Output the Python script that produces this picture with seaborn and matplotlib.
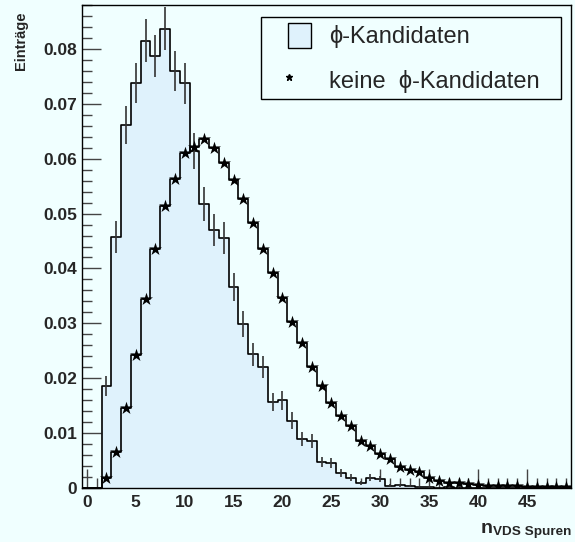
import numpy as np
import pandas as pd
import matplotlib
matplotlib.use("Agg")
import matplotlib.pyplot as plt
import seaborn as sns
from matplotlib.patches import Patch, Rectangle
from matplotlib.lines import Line2D
from matplotlib.legend_handler import HandlerPatch
from matplotlib.ticker import MultipleLocator, FuncFormatter

# Anzahl VDS-Spuren (Bin-Mitten)
n_spuren = list(range(50))

# phi-Kandidaten (normiert)
phi_kand = [0, 0, 0.0186, 0.0458, 0.0661, 0.0738, 0.0815, 0.0787, 0.0837, 0.0760,
            0.0737, 0.0614, 0.0517, 0.0470, 0.0455, 0.0366, 0.0299, 0.0244, 0.0221, 0.0157,
            0.0160, 0.0123, 0.0089, 0.0086, 0.0048, 0.0045, 0.0027, 0.0019, 0.0009, 0.0019,
            0.0016, 0.0004, 0.0005, 0.0003, 0.0002, 0.0002, 0, 0.0002, 0, 0,
            0, 0, 0, 0, 0, 0, 0, 0, 0, 0]

# Fehlerbalken der phi-Kandidaten
phi_fehler = [0, 0, 0.0018, 0.0029, 0.0035, 0.0037, 0.0039, 0.0038, 0.0039, 0.0037,
              0.0037, 0.0033, 0.0031, 0.0029, 0.0029, 0.0026, 0.0023, 0.0021, 0.0020, 0.0017,
              0.0017, 0.0015, 0.0013, 0.0013, 0.0009, 0.0009, 0.0007, 0.0006, 0.0004, 0.0006,
              0.0005, 0.0003, 0.0003, 0.0002, 0.0002, 0.0002, 0, 0.0002, 0, 0,
              0, 0, 0, 0, 0, 0, 0, 0, 0, 0]

# keine phi-Kandidaten (normiert)
keine_phi = [0, 0, 0.0018, 0.0066, 0.0145, 0.0242, 0.0344, 0.0435, 0.0514, 0.0563,
             0.0610, 0.0622, 0.0635, 0.0619, 0.0593, 0.0561, 0.0526, 0.0482, 0.0435, 0.0392,
             0.0347, 0.0302, 0.0265, 0.0221, 0.0185, 0.0155, 0.0132, 0.0113, 0.0086, 0.0077,
             0.0062, 0.0053, 0.0038, 0.0033, 0.0029, 0.0019, 0.0013, 0.0010, 0.0009, 0.0008,
             0.0006, 0.0004, 0.0003, 0.0004, 0.0003, 0.0002, 0.0002, 0.0001, 0.0001, 0.0001]

df = pd.DataFrame({"n": n_spuren, "phi": phi_kand, "fehler": phi_fehler, "keine": keine_phi})

hintergrund = "#F0FFFF"
fuellung = "#DFF2FC"

sns.set_style("ticks")
plt.rcParams['font.family'] = ['Liberation Sans', 'DejaVu Sans']

fig = plt.figure(figsize=(5.75, 5.42), dpi=100, facecolor=hintergrund)
ax = fig.add_axes([0.1426, 0.0996, 0.8504, 0.8912])
ax.set_facecolor(hintergrund)

bin_opts = dict(binwidth=1, binrange=(-0.5, 49.5), element="step")

# phi-Kandidaten: gefuellt + Umriss
sns.histplot(data=df, x="n", weights="phi", fill=True, color=fuellung, alpha=1,
             linewidth=0, ax=ax, **bin_opts)
sns.histplot(data=df, x="n", weights="phi", fill=False, color="black", linewidth=1.2,
             ax=ax, **bin_opts)
mit_fehler = df[df["phi"] > 0]
ax.errorbar(mit_fehler["n"], mit_fehler["phi"], yerr=mit_fehler["fehler"], fmt="none",
            ecolor="#333333", elinewidth=1.2)

# keine phi-Kandidaten: Umriss + Sterne
sns.histplot(data=df, x="n", weights="keine", fill=False, color="black", linewidth=1.2,
             ax=ax, **bin_opts)
sns.scatterplot(data=df[df["keine"] > 0], x="n", y="keine", marker="*", s=95,
                color="black", linewidth=0, ax=ax, zorder=5)

ax.set_xlim(-0.5, 49.5)
ax.set_ylim(0, 0.088)
ax.set_xlabel("")
ax.set_ylabel("")

ax.xaxis.set_major_locator(MultipleLocator(5))
ax.xaxis.set_minor_locator(MultipleLocator(1))
ax.yaxis.set_major_locator(MultipleLocator(0.01))
ax.yaxis.set_minor_locator(MultipleLocator(0.002))
ax.yaxis.set_major_formatter(FuncFormatter(lambda v, p: "0" if abs(v) < 1e-9 else f"{v:.2f}"))

ax.tick_params(which="major", direction="in", length=14, width=1, color="#444444",
               labelsize=12.5, pad=3.6)
ax.tick_params(which="minor", direction="in", length=7, width=1, color="#444444")
ax.tick_params(axis="x", which="major", pad=5)
for lab in ax.get_xticklabels() + ax.get_yticklabels():
    lab.set_fontweight("bold")
for sp in ax.spines.values():
    sp.set_visible(True)
    sp.set_color("black")
    sp.set_linewidth(1)

# Achsentitel
fig.text(0.037, 1 - 11 / 542, "Einträge", rotation=90, ha="center", va="top",
         fontsize=10.5, fontweight="bold")
fig.text(481 / 575, 1 - 533 / 542, "n", ha="left", va="baseline", fontsize=14, fontweight="bold")
fig.text(493 / 575, 1 - 535 / 542, "VDS Spuren", ha="left", va="baseline",
         fontsize=9.7, fontweight="bold")


# Legende
def kaestchen(legend, orig_handle, xdescent, ydescent, width, height, fontsize):
    versatz = 15
    return Rectangle((-xdescent + versatz, -ydescent), width - versatz, height)


handles = [Patch(facecolor=fuellung, edgecolor="black", linewidth=1),
           Line2D([], [], marker="*", color="black", linestyle="none", markersize=5)]
leg = ax.legend(handles, ["ϕ-Kandidaten", "keine  ϕ-Kandidaten"],
                loc="upper left", bbox_to_anchor=(0.366, 0.5, 0.614, 0.475), mode="expand",
                borderaxespad=0, fontsize=17, handlelength=1.86, handleheight=1.22,
                handletextpad=0.76, labelspacing=0.8, borderpad=0.26, fancybox=False,
                framealpha=1, facecolor=hintergrund, edgecolor="black",
                handler_map={Patch: HandlerPatch(patch_func=kaestchen)})
leg.get_frame().set_linewidth(1)

fig.savefig("out.png", dpi=100, facecolor=hintergrund)
